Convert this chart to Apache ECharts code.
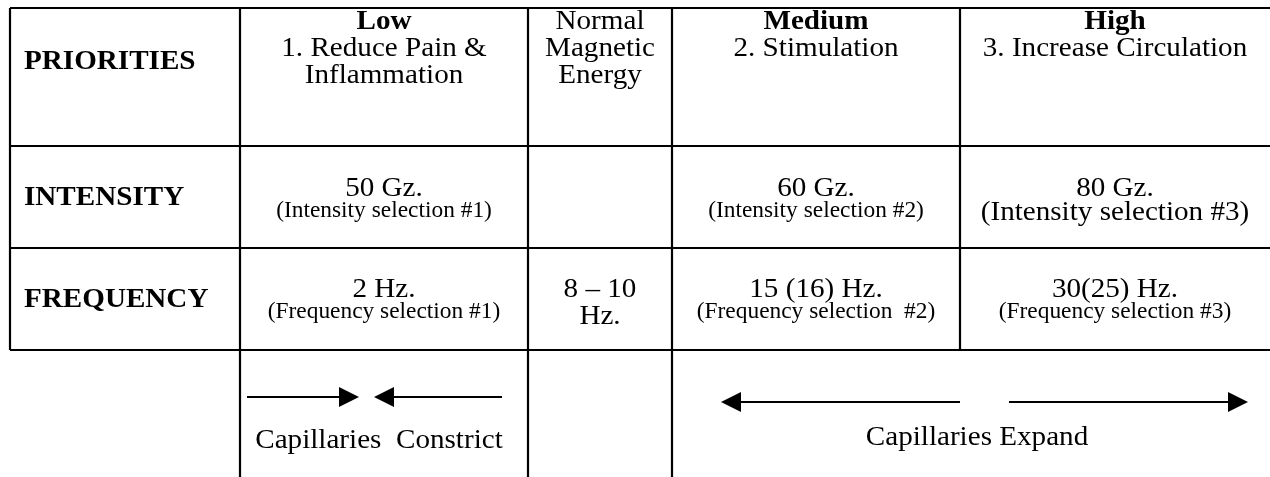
<!DOCTYPE html>
<html><head><meta charset="utf-8">
<script src="https://cdn.jsdelivr.net/npm/echarts@6/dist/echarts.min.js"></script>
<style>html,body{margin:0;padding:0;background:#fff}#c{width:1270px;height:477px}</style>
</head><body><div id="c"></div>
<script>
// ---------- table content ----------
const rowLabels = ['PRIORITIES', 'INTENSITY', 'FREQUENCY'];
const levelNames = ['Low', '', 'Medium', 'High'];
const priorityLines = [['1. Reduce Pain &', 'Inflammation'], ['Normal', 'Magnetic', 'Energy'], ['2. Stimulation'], ['3. Increase Circulation']];
const intensityValues = ['50 Gz.', '', '60 Gz.', '80 Gz.'];
const intensityNotes = ['(Intensity selection #1)', '', '(Intensity selection #2)', '(Intensity selection #3)'];
const frequencyValues = ['2 Hz.', '8 \u2013 10', '15 (16) Hz.', '30(25) Hz.'];
const frequencyNotes = ['(Frequency selection #1)', 'Hz.', '(Frequency selection  #2)', '(Frequency selection #3)'];
const effectLabels = ['Capillaries  Constrict', 'Capillaries Expand'];

// ---------- layout (table units = axis units) ----------
const colEdges = [10, 240, 528, 672, 960, 1270];
const rowEdges = [8, 146, 248, 350, 477];
const FONT = 'Liberation Serif';
const MAIN = 28, SMALL = 22.5, SX = 1.04;

const colMid = i => (colEdges[i + 1] + colEdges[i + 2]) / 2; // value columns 0..3
const texts = [];
function addText(x, y, text, size, bold, align) {
  texts.push({ x, y, text, size, bold, align: align || 'center' });
}
// row labels
addText(24, rowEdges[0] + 54, rowLabels[0], MAIN, true, 'left');
addText(24, rowEdges[1] + 52, rowLabels[1], MAIN, true, 'left');
addText(24, rowEdges[2] + 52, rowLabels[2], MAIN, true, 'left');
// header row
for (let c = 0; c < 4; c++) {
  const lines = [];
  if (levelNames[c]) lines.push([levelNames[c], true]);
  priorityLines[c].forEach(l => lines.push([l, false]));
  lines.forEach((l, k) => addText(colMid(c), rowEdges[0] + 14 + 27 * k, l[0], MAIN, l[1]));
}
// intensity row
for (let c = 0; c < 4; c++) {
  if (intensityValues[c]) addText(colMid(c), rowEdges[1] + 43, intensityValues[c], MAIN, false);
  if (intensityNotes[c]) {
    if (c === 3) addText(colMid(c), rowEdges[1] + 67, intensityNotes[c], MAIN, false);
    else addText(colMid(c), rowEdges[1] + 65, intensityNotes[c], SMALL, false);
  }
}
// frequency row
for (let c = 0; c < 4; c++) {
  addText(colMid(c), rowEdges[2] + 42, frequencyValues[c], MAIN, false);
  if (c === 1) addText(colMid(c), rowEdges[2] + 69, frequencyNotes[c], MAIN, false);
  else addText(colMid(c), rowEdges[2] + 64, frequencyNotes[c], SMALL, false);
}
// effects
addText(colMid(0) - 5, rowEdges[3] + 91, effectLabels[0], MAIN, false);
addText((colEdges[3] + colEdges[5]) / 2 + 6, rowEdges[3] + 88, effectLabels[1], MAIN, false);

// ---------- rules ----------
const segs = [];
[0, 1, 2, 3].forEach(r => segs.push([colEdges[0], rowEdges[r], colEdges[5], rowEdges[r]]));
[0, 1, 2, 3, 4].forEach(i => segs.push([colEdges[i], rowEdges[0], colEdges[i], rowEdges[3]]));
[1, 2, 3].forEach(i => segs.push([colEdges[i], rowEdges[3], colEdges[i], rowEdges[4]]));

// ---------- arrows: [fromX, tipX, y] ----------
const arrows = [
  [247, 359, 397], [502, 374, 397],
  [960, 721, 402], [1009, 1248, 402]
];

const chart = echarts.init(document.getElementById('c'), null, { renderer: 'canvas' });
chart.setOption({
  animation: false,
  backgroundColor: '#fff',
  grid: { left: 0, right: 0, top: 0, bottom: 0 },
  xAxis: { type: 'value', min: 0, max: 1270, show: false },
  yAxis: { type: 'value', min: 0, max: 477, inverse: true, show: false },
  series: [
    {
      type: 'custom', coordinateSystem: 'cartesian2d', silent: true,
      data: segs,
      renderItem: (params, api) => {
        const a = api.coord([api.value(0), api.value(1)]);
        const b = api.coord([api.value(2), api.value(3)]);
        return { type: 'line', shape: { x1: a[0], y1: a[1], x2: b[0], y2: b[1] },
          style: { stroke: '#000', lineWidth: 2.2 } };
      }
    },
    {
      type: 'custom', coordinateSystem: 'cartesian2d', silent: true,
      data: arrows,
      renderItem: (params, api) => {
        const a = api.coord([api.value(0), api.value(2)]);
        const b = api.coord([api.value(1), api.value(2)]);
        const dir = b[0] > a[0] ? 1 : -1;
        const base = b[0] - dir * 20;
        return { type: 'group', children: [
          { type: 'line', shape: { x1: a[0], y1: a[1], x2: base, y2: a[1] }, style: { stroke: '#000', lineWidth: 2 } },
          { type: 'polygon', shape: { points: [[b[0], b[1]], [base, b[1] - 10], [base, b[1] + 10]] }, style: { fill: '#000' } }
        ] };
      }
    },
    {
      type: 'custom', coordinateSystem: 'cartesian2d', silent: true,
      data: texts.map(t => [t.x, t.y]),
      renderItem: (params, api) => {
        const t = texts[params.dataIndex];
        const p = api.coord([api.value(0), api.value(1)]);
        return { type: 'text', x: p[0], y: p[1], scaleX: SX,
          style: { text: t.text, fill: '#000', align: t.align, verticalAlign: 'middle',
            font: (t.bold ? 'bold ' : '') + t.size + 'px "' + FONT + '"' } };
      }
    }
  ]
});
</script></body></html>
